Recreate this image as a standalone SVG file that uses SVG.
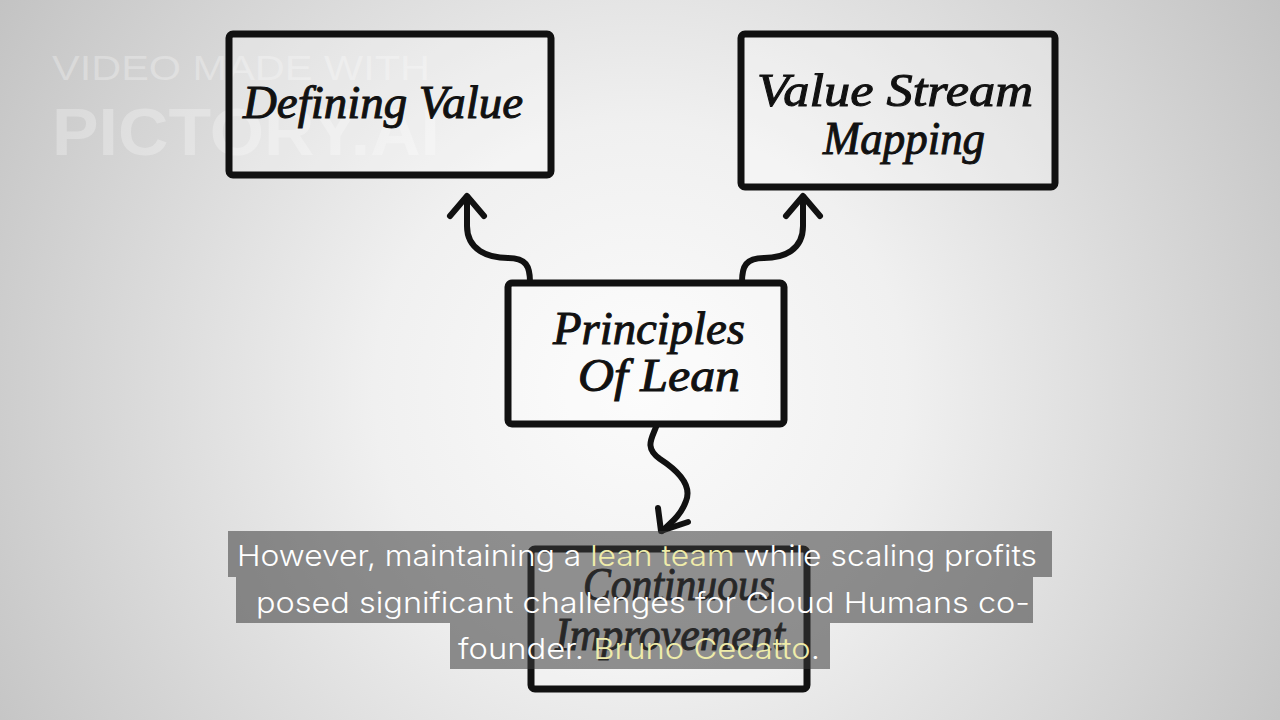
<svg xmlns="http://www.w3.org/2000/svg" width="1280" height="720" viewBox="0 0 1280 720">
<defs>
<radialGradient id="bg" cx="640" cy="390" r="760" gradientUnits="userSpaceOnUse">
<stop offset="0" stop-color="#fbfbfb"/>
<stop offset="0.35" stop-color="#f0f0f0"/>
<stop offset="1" stop-color="#c2c2c2"/>
</radialGradient>
<style>
.box{fill:#ffffff;fill-opacity:0.25;stroke:#111;stroke-width:7;stroke-linejoin:round}
.hand{font-family:"Liberation Serif",serif;font-style:italic;font-size:46px;fill:#111;text-anchor:middle;stroke:#111;stroke-width:1}
.conn{fill:none;stroke:#111;stroke-width:6;stroke-linecap:round;stroke-linejoin:round}
.bar{fill:#3b3b3b;fill-opacity:0.55}
.cap{font-family:Inter,"Liberation Sans",sans-serif;font-size:29px;fill:#ffffff;font-weight:300}
.hl{fill:#efecaa}
.wm{font-family:"Liberation Sans",sans-serif;fill:#ffffff;fill-opacity:0.28}
</style>
</defs>
<rect width="1280" height="720" fill="url(#bg)"/>
<g id="watermark">
<text class="wm" x="52" y="80" font-size="35" textLength="378" lengthAdjust="spacingAndGlyphs">VIDEO MADE WITH</text>
<text class="wm" x="52" y="155" font-size="66" font-weight="bold" textLength="388" lengthAdjust="spacingAndGlyphs">PICTORY.AI</text>
</g>
<g id="connectors">
<path class="conn" d="M530 282 C530 266 526 258 508 258 C488 258 467 250 467 226 L467 198"/>
<path class="conn" d="M450 216 L467 196 L484 216"/>
<path class="conn" d="M742 282 C742 266 746 258 764 258 C784 258 803 250 803 226 L803 198"/>
<path class="conn" d="M786 216 L803 196 L820 216"/>
<path class="conn" d="M656 427 C652 438 644 448 660 459 C680 472 692 486 686 501 C681 515 672 522 662 531"/>
<path class="conn" d="M658 508 L661 531 L688 522"/>
</g>
<g id="node-defining-value">
<rect class="box" x="229" y="34" width="322" height="141" rx="4"/>
<text class="hand" x="383" y="118" textLength="280" lengthAdjust="spacingAndGlyphs">Defining Value</text>
</g>
<g id="node-value-stream-mapping">
<rect class="box" x="741" y="34" width="314" height="153" rx="4"/>
<text class="hand" x="895" y="106" textLength="276" lengthAdjust="spacingAndGlyphs">Value Stream</text>
<text class="hand" x="904" y="154" textLength="162" lengthAdjust="spacingAndGlyphs">Mapping</text>
</g>
<g id="node-principles-of-lean">
<rect class="box" x="508" y="283" width="276" height="141" rx="4"/>
<text class="hand" x="649" y="344" textLength="192" lengthAdjust="spacingAndGlyphs">Principles</text>
<text class="hand" x="659" y="391" textLength="162" lengthAdjust="spacingAndGlyphs">Of Lean</text>
</g>
<g id="node-continuous-improvement">
<rect class="box" x="531" y="549" width="276" height="140" rx="4"/>
<text class="hand" x="679" y="600" textLength="192" lengthAdjust="spacingAndGlyphs">Continuous</text>
<text class="hand" x="670" y="650" textLength="230" lengthAdjust="spacingAndGlyphs">Improvement</text>
</g>
<g id="caption">
<rect class="bar" x="228" y="531" width="824" height="46"/>
<rect class="bar" x="236" y="577" width="797" height="46"/>
<rect class="bar" x="450" y="623" width="380" height="46"/>
<text class="cap" x="237" y="566" textLength="800" lengthAdjust="spacingAndGlyphs">However, maintaining a <tspan class="hl">lean team</tspan> while scaling profits</text>
<text class="cap" x="256" y="613" textLength="774" lengthAdjust="spacingAndGlyphs">posed significant challenges for Cloud Humans co-</text>
<text class="cap" x="458" y="659" textLength="362" lengthAdjust="spacingAndGlyphs">founder. <tspan class="hl">Bruno Cecatto</tspan>.</text>
</g>
</svg>
